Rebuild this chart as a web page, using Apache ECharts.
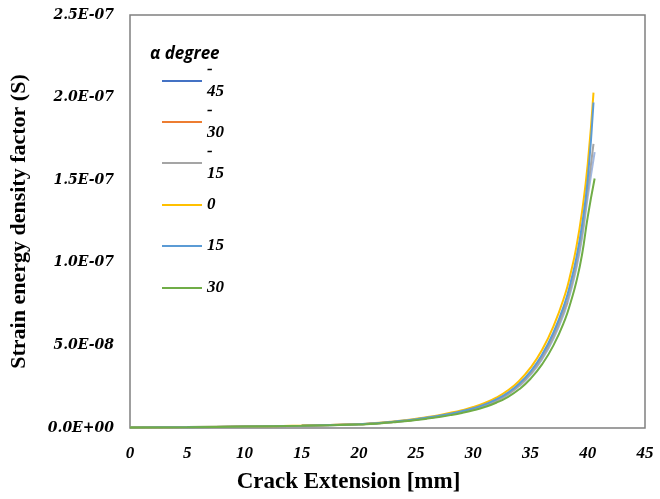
<!DOCTYPE html>
<html>
<head>
<meta charset="utf-8">
<script src="https://cdn.jsdelivr.net/npm/echarts@6/dist/echarts.min.js"></script>
<style>
  html, body { margin: 0; padding: 0; background: #fff; }
  #main { width: 660px; height: 499px; }
</style>
</head>
<body>
<div id="main"></div>
<script>
// crack extension [mm] sample points (shared by all series)
var crackX = [0, 5, 10, 15, 20, 21, 22, 23, 24, 25, 26, 27, 28, 29, 30, 31, 32, 33, 34, 35, 36, 37, 38, 38.5, 39, 39.5, 40];

// strain energy density factor, in units of 1E-09
var sM45 = [0.3, 0.5, 0.85, 1.35, 2.2, 2.6, 3.05, 3.6, 4.25, 5.0, 6.0, 7.0, 8.2, 9.6, 11.3, 13.5, 16.3, 20.1, 25.2, 32.2, 41.5, 54, 70.8, 82.5, 96.5, 115, 140];
var sM30 = [0.3, 0.53, 0.88, 1.38, 2.25, 2.65, 3.1, 3.7, 4.35, 5.15, 6.1, 7.2, 8.4, 9.85, 11.6, 13.9, 16.8, 20.7, 26, 33.2, 43, 56, 73];
var sM15 = [0.3, 0.52, 0.88, 1.37, 2.25, 2.65, 3.1, 3.65, 4.3, 5.1, 6.05, 7.1, 8.35, 9.8, 11.5, 13.8, 16.6, 20.5, 25.8, 32.9, 42.4, 55.2, 72.5, 84.5, 98.5, 117.5, 144];
var s0 = [0.3, 0.55, 0.9, 1.45, 2.4, 2.8, 3.35, 4.0, 4.7, 5.6, 6.6, 7.8, 9.2, 10.8, 12.7, 15.2, 18.4, 22.7, 28.5, 36.5, 47.2, 61.5, 80.5, 93.5, 109.5, 131, 160];
var s15 = [0.3, 0.55, 0.9, 1.4, 2.3, 2.7, 3.2, 3.8, 4.5, 5.3, 6.3, 7.4, 8.7, 10.2, 12.0, 14.3, 17.3, 21.3, 26.8, 34.3, 44.3, 57.8, 75.8, 88, 103, 123, 151];
var s30 = [0.3, 0.5, 0.85, 1.3, 2.1, 2.45, 2.9, 3.45, 4.05, 4.8, 5.7, 6.7, 7.8, 9.1, 10.7, 12.7, 15.3, 18.7, 23.4, 29.8, 38.5, 50, 65.5, 76, 88.5, 105, 128];

// last point of each curve
var endX = [40.6, 38.2, 40.5, 40.5, 40.5, 40.6];
var endS = [167, 76, 172, 203, 197, 151];

var names = ['-\n45', '-\n30', '-\n15', '0', '15', '30'];
var colors = ['#4472C4', '#ED7D31', '#A5A5A5', '#FFC000', '#5B9BD5', '#70AD47'];
var yTicks = ['0.0E+00', '5.0E-08', '1.0E-07', '1.5E-07', '2.0E-07', '2.5E-07'];

var allS = [sM45, sM30, sM15, s0, s15, s30];

function toPairs(vals, k) {
  var pts = []
  for (var i = 0; i < vals.length; i++) {
    pts.push([crackX[i], vals[i] * 1e-9])
  }
  pts.push([endX[k], endS[k] * 1e-9])
  return pts
}

var serif = '"Liberation Serif", "Times New Roman", serif';
var lineY = [82, 123, 164, 206, 247, 289]; // legend rows (layout)

var legends = [];
var series = [];
for (var k = 0; k < names.length; k++) {
  var multi = names[k].indexOf('\n') >= 0
  legends.push({
    data: [names[k]],
    left: 162,
    top: multi ? lineY[k] - 34 : lineY[k] - 12,
    padding: 0,
    icon: 'rect',
    itemWidth: 40,
    itemHeight: 2,
    selectedMode: false,
    textStyle: {
      fontFamily: serif,
      fontStyle: 'italic',
      fontWeight: 'bold',
      fontSize: 17,
      color: '#000',
      lineHeight: 22,
      padding: multi ? [22, 0, 0, 0] : 0
    }
  })
  series.push({
    name: names[k],
    type: 'line',
    data: toPairs(allS[k], k),
    showSymbol: false,
    smooth: 0.5,
    lineStyle: { width: 2, color: colors[k], opacity: k == 0 ? 0.5 : 1 },
    itemStyle: { color: colors[k] }
  })
}

var myChart = echarts.init(document.getElementById('main'));
myChart.setOption({
  animation: false,
  title: {
    text: 'α degree',
    left: 150,
    top: 46,
    padding: 0,
    textStyle: {
      fontFamily: '"Open Sans", Lato, sans-serif',
      fontStyle: 'italic',
      fontWeight: 'bold',
      fontSize: 17,
      color: '#000'
    }
  },
  legend: legends,
  grid: {
    left: 125,
    right: 15,
    top: 15,
    bottom: 67,
    show: true,
    borderColor: '#808080',
    borderWidth: 1.5
  },
  xAxis: {
    type: 'value',
    min: 0,
    max: 45,
    interval: 5,
    name: 'Crack Extension [mm]',
    nameLocation: 'middle',
    nameGap: 43,
    nameTextStyle: {
      fontFamily: serif,
      fontWeight: 'bold',
      fontSize: 23,
      color: '#000',
      padding: [0, 78, 0, 0]
    },
    axisLine: { show: false },
    axisTick: { show: false },
    splitLine: { show: false },
    axisLabel: {
      margin: 17,
      fontFamily: serif,
      fontStyle: 'italic',
      fontWeight: 'bold',
      fontSize: 17,
      color: '#000'
    }
  },
  yAxis: {
    type: 'value',
    min: 0,
    max: 2.5e-7,
    interval: 5e-8,
    name: 'Strain energy density factor (S)',
    nameLocation: 'middle',
    nameGap: 100,
    nameTextStyle: {
      fontFamily: serif,
      fontWeight: 'bold',
      fontSize: 22,
      color: '#000'
    },
    axisLine: { show: false },
    axisTick: { show: false },
    splitLine: { show: false },
    axisLabel: {
      margin: 16,
      fontFamily: '"DejaVu Serif", serif',
      fontStyle: 'italic',
      fontWeight: 'bold',
      fontSize: 14,
      color: '#000',
      formatter: function (v) {
        return yTicks[Math.round(v / 5e-8)]
      }
    }
  },
  series: series
});
</script>
</body>
</html>
